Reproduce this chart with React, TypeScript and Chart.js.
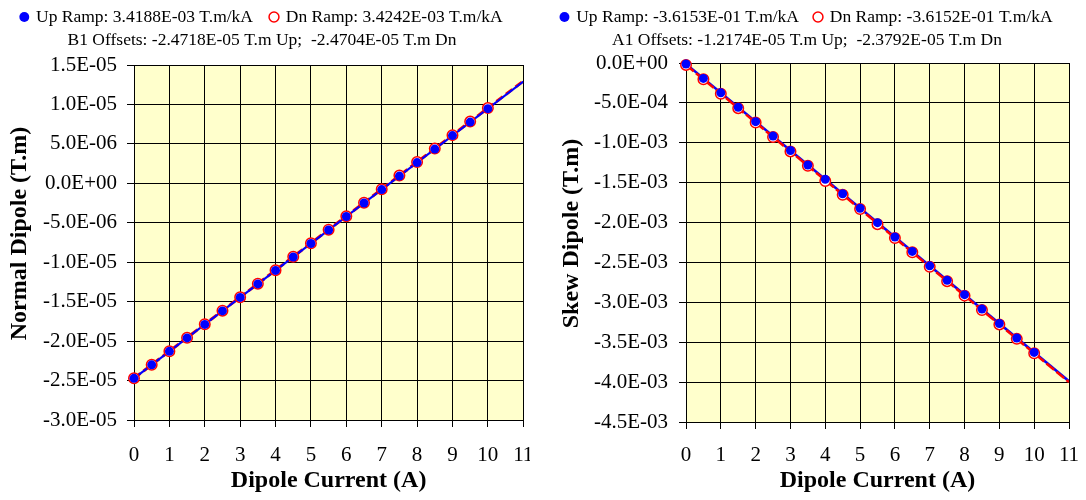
import React, { useEffect, useRef } from "react";
import { Chart, registerables } from "chart.js";

Chart.register(...registerables);

// ---------- data ----------
const currents = [0, 0.5, 1, 1.5, 2, 2.5, 3, 3.5, 4, 4.5, 5, 5.5, 6, 6.5, 7, 7.5, 8, 8.5, 9, 9.5, 10];

const normalUp = [
  -2.472e-5, -2.301e-5, -2.13e-5, -1.959e-5, -1.788e-5, -1.617e-5, -1.446e-5, -1.275e-5, -1.104e-5,
  -9.34e-6, -7.63e-6, -5.92e-6, -4.21e-6, -2.5e-6, -7.9e-7, 9.2e-7, 2.63e-6, 4.34e-6, 6.05e-6, 7.76e-6, 9.47e-6,
];
const normalDn = [
  -2.47e-5, -2.299e-5, -2.128e-5, -1.957e-5, -1.786e-5, -1.614e-5, -1.443e-5, -1.272e-5, -1.101e-5,
  -9.3e-6, -7.59e-6, -5.87e-6, -4.16e-6, -2.45e-6, -7.4e-7, 9.8e-7, 2.69e-6, 4.4e-6, 6.11e-6, 7.83e-6, 9.54e-6,
];
const skewUp = [
  -1.2e-5, -1.93e-4, -3.74e-4, -5.54e-4, -7.35e-4, -9.16e-4, -1.097e-3, -1.278e-3, -1.458e-3, -1.639e-3,
  -1.82e-3, -2.001e-3, -2.181e-3, -2.362e-3, -2.543e-3, -2.724e-3, -2.904e-3, -3.085e-3, -3.266e-3, -3.447e-3, -3.628e-3,
];
const skewDn = [
  -2.4e-5, -2.04e-4, -3.85e-4, -5.66e-4, -7.47e-4, -9.27e-4, -1.108e-3, -1.289e-3, -1.48e-3, -1.651e-3,
  -1.831e-3, -2.02e-3, -2.193e-3, -2.373e-3, -2.554e-3, -2.735e-3, -2.916e-3, -3.097e-3, -3.277e-3, -3.458e-3, -3.639e-3,
];

const fitCurrents = [0, 11];
const normalUpFit = [-2.4718e-5, 1.2889e-5];
const normalDnFit = [-2.4704e-5, 1.2962e-5];
const skewUpFit = [-1.2174e-5, -3.989e-3];
const skewDnFit = [-2.3792e-5, -4.0005e-3];

const normalLegend = ["Up Ramp: 3.4188E-03 T.m/kA", "Dn Ramp: 3.4242E-03 T.m/kA"];
const normalOffsets = "B1 Offsets: -2.4718E-05 T.m Up;  -2.4704E-05 T.m Dn";
const skewLegend = ["Up Ramp: -3.6153E-01 T.m/kA", "Dn Ramp: -3.6152E-01 T.m/kA"];
const skewOffsets = "A1 Offsets: -1.2174E-05 T.m Up;  -2.3792E-05 T.m Dn";

const xRange = [0, 11];
const xStep = 1;
const normalYRange = [-3e-5, 1.5e-5];
const normalYStep = 5e-6;
const skewYRange = [-4.5e-3, 0];
const skewYStep = 5e-4;

const xTitle = "Dipole Current (A)";
const normalYTitle = "Normal Dipole (T.m)";
const skewYTitle = "Skew Dipole (T.m)";

// ---------- helpers ----------
const FONT = "'Liberation Serif', 'Times New Roman', serif";

function fmtExp(v: number): string {
  if (Math.abs(v) < 1e-15) return "0.0E+00";
  const s = v.toExponential(1);
  const [m, e] = s.split("e");
  const n = parseInt(e, 10);
  return m + "E" + (n < 0 ? "-" : "+") + String(Math.abs(n)).padStart(2, "0");
}

function pts(xs: number[], ys: number[]) {
  return xs.map((x, i) => ({ x, y: ys[i] }));
}

const plotBg = {
  id: "plotBg",
  beforeDraw(chart: any) {
    const { ctx, chartArea } = chart;
    if (!chartArea) return;
    ctx.save();
    ctx.fillStyle = "#FFFFCC";
    ctx.fillRect(chartArea.left, chartArea.top, chartArea.right - chartArea.left, chartArea.bottom - chartArea.top);
    ctx.restore();
  },
};

type PanelCfg = {
  left: number;
  width: number;
  legend: string[];
  offsets: string;
  up: number[];
  dn: number[];
  upFit: number[];
  dnFit: number[];
  yRange: number[];
  yStep: number;
  yTitle: string;
  legendPad: number;
  layoutTop: number;
  legendMaxH: number;
  subPadBottom: number;
  padRight: number;
  yAxisWidth: number;
  yTitlePad: number;
  yTickPad: number;
  xAxisHeight: number;
  xTickPad: number;
  redOnTop: boolean;
};

function buildConfig(c: PanelCfg): any {
  const blue = "#0000FF";
  const red = "#FF0000";
  return {
    type: "scatter",
    data: {
      datasets: [
        {
          label: c.legend[0],
          data: pts(currents, c.up),
          showLine: false,
          pointRadius: 4.5,
          pointBackgroundColor: blue,
          pointBorderColor: blue,
          pointBorderWidth: 0,
          pointStyle: "circle",
          order: 0,
          clip: false,
        },
        {
          label: c.legend[1],
          data: pts(currents, c.dn),
          showLine: false,
          pointRadius: 5.25,
          pointBackgroundColor: "#FFFFFF",
          pointBorderColor: red,
          pointBorderWidth: 1.5,
          pointStyle: "circle",
          order: 1,
          clip: false,
        },
        {
          label: "up fit",
          data: pts(fitCurrents, c.upFit),
          showLine: true,
          pointRadius: 0,
          borderColor: blue,
          borderWidth: c.redOnTop ? 2.5 : 2,
          order: c.redOnTop ? 3 : 2,
        },
        {
          label: "dn fit",
          data: pts(fitCurrents, c.dnFit),
          showLine: true,
          pointRadius: 0,
          borderColor: red,
          borderWidth: c.redOnTop ? 2.5 : 3,
          borderDash: c.redOnTop ? [10, 3] : [8, 4],
          order: c.redOnTop ? 2 : 3,
        },
      ],
    },
    options: {
      responsive: false,
      maintainAspectRatio: false,
      animation: false,
      layout: { padding: { top: c.layoutTop, right: c.padRight, left: 0, bottom: 0 } },
      plugins: {
        tooltip: { enabled: false },
        legend: {
          display: true,
          position: "top",
          weight: 3000,
          maxHeight: c.legendMaxH,
          labels: {
            filter: (item: any) => item.datasetIndex < 2,
            usePointStyle: true,
            boxWidth: 6,
            boxHeight: 7,
            padding: c.legendPad,
            color: "#000",
            font: { family: FONT, size: 17.5 },
          },
        },
        subtitle: {
          display: true,
          text: c.offsets,
          color: "#000",
          font: { family: FONT, size: 17.5, weight: "normal" },
          padding: { top: 0, bottom: c.subPadBottom },
        },
      },
      scales: {
        x: {
          type: "linear",
          position: "bottom",
          min: xRange[0],
          max: xRange[1],
          afterFit: (s: any) => {
            s.height = c.xAxisHeight;
            s.paddingLeft = 0;
            s.paddingRight = 0;
          },
          ticks: {
            stepSize: xStep,
            autoSkip: false,
            maxRotation: 0,
            padding: c.xTickPad,
            color: "#000",
            font: { family: FONT, size: 21 },
          },
          grid: { color: "#000", lineWidth: 1, tickLength: 7, drawTicks: true },
          border: { display: true, color: "#000", width: 1 },
          title: {
            display: true,
            text: xTitle,
            color: "#000",
            font: { family: FONT, size: 24, weight: "bold" },
            padding: { top: 0, bottom: 5 },
          },
        },
        y: {
          type: "linear",
          position: "left",
          min: c.yRange[0],
          max: c.yRange[1],
          afterFit: (s: any) => {
            s.width = c.yAxisWidth;
          },
          ticks: {
            stepSize: c.yStep,
            autoSkip: false,
            padding: c.yTickPad,
            color: "#000",
            font: { family: FONT, size: 21 },
            callback: (v: any) => fmtExp(Number(v)),
          },
          grid: { color: "#000", lineWidth: 1, tickLength: 7, drawTicks: true },
          border: { display: true, color: "#000", width: 1 },
          title: {
            display: true,
            text: "   " + c.yTitle,
            color: "#000",
            font: { family: FONT, size: 24, weight: "bold" },
            padding: { top: c.yTitlePad, bottom: 0 },
          },
        },
      },
    },
    plugins: [plotBg],
  };
}

const normalPanel: PanelCfg = {
  left: 0,
  width: 530,
  legend: normalLegend,
  offsets: normalOffsets,
  up: normalUp,
  dn: normalDn,
  upFit: normalUpFit,
  dnFit: normalDnFit,
  yRange: normalYRange,
  yStep: normalYStep,
  yTitle: normalYTitle,
  legendPad: 18,
  layoutTop: -9.75,
  legendMaxH: 39.25,
  subPadBottom: 14.5,
  padRight: 6,
  yAxisWidth: 134,
  yTitlePad: 5.6,
  yTickPad: 10,
  xAxisHeight: 80,
  xTickPad: 16,
  redOnTop: false,
};

const skewPanel: PanelCfg = {
  left: 545,
  width: 541,
  legend: skewLegend,
  offsets: skewOffsets,
  up: skewUp,
  dn: skewDn,
  upFit: skewUpFit,
  dnFit: skewDnFit,
  yRange: skewYRange,
  yStep: skewYStep,
  yTitle: skewYTitle,
  legendPad: 16,
  layoutTop: -7.75,
  legendMaxH: 37.25,
  subPadBottom: 12.5,
  padRight: 17,
  yAxisWidth: 141,
  yTitlePad: 12.6,
  yTickPad: 11,
  xAxisHeight: 78,
  xTickPad: 14,
  redOnTop: true,
};

function Panel({ cfg }: { cfg: PanelCfg }) {
  const ref = useRef<HTMLCanvasElement | null>(null);
  useEffect(() => {
    if (!ref.current) return;
    const chart = new Chart(ref.current, buildConfig(cfg));
    return () => chart.destroy();
  }, [cfg]);
  return (
    <canvas
      ref={ref}
      width={cfg.width}
      height={500}
      style={{ position: "absolute", left: cfg.left, top: 0, width: cfg.width, height: 500 }}
    />
  );
}

export default function App() {
  return (
    <div style={{ position: "absolute", left: 0, top: 0, width: 1086, height: 500, background: "#fff", overflow: "hidden" }}>
      <Panel cfg={normalPanel} />
      <Panel cfg={skewPanel} />
    </div>
  );
}
